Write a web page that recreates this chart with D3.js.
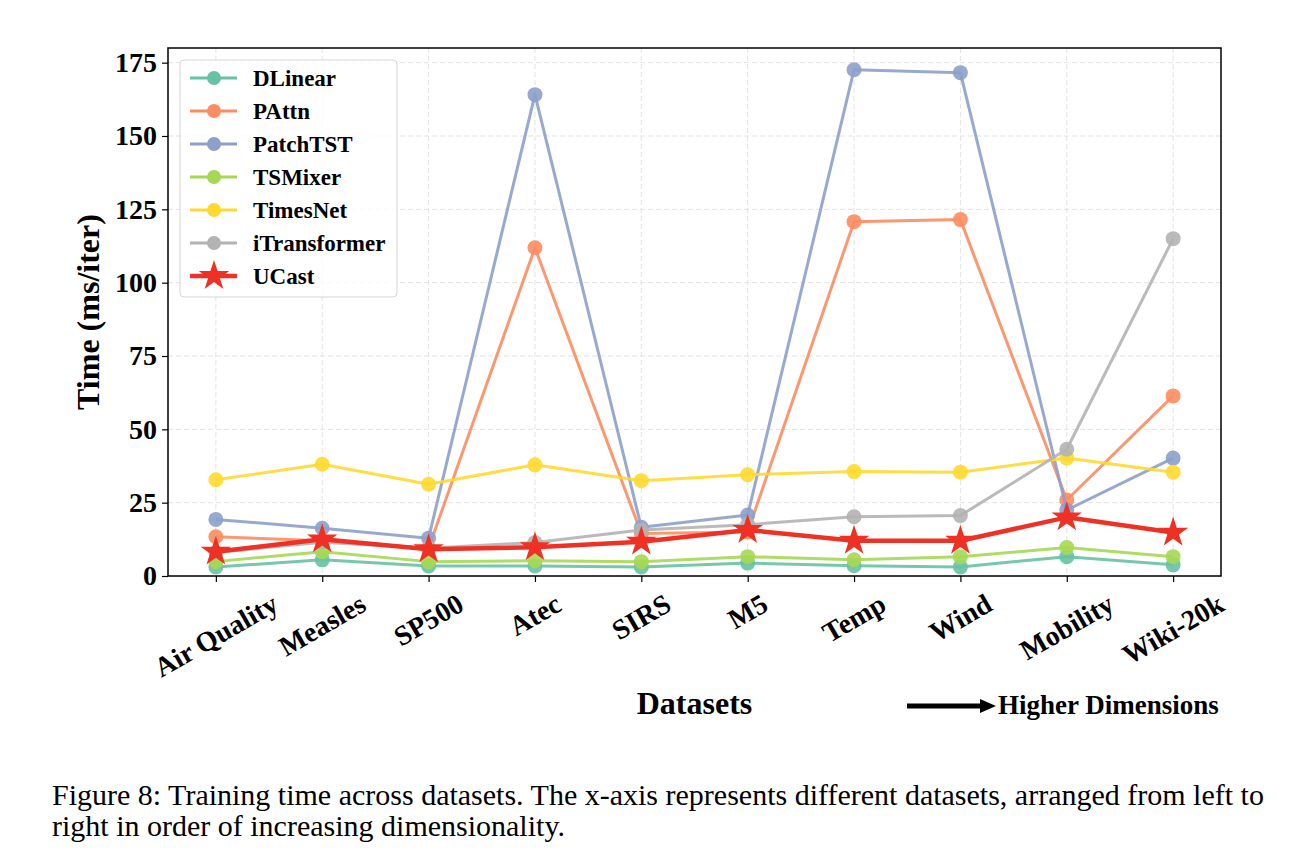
<!DOCTYPE html>
<html>
<head>
<meta charset="utf-8">
<script src="https://cdn.jsdelivr.net/npm/d3@7"></script>
<style>
  body { margin: 0; background: #fff; }
  svg { display: block; }
</style>
</head>
<body>
<svg id="chart" width="1308" height="855"></svg>
<script>
const datasets = ["Air Quality", "Measles", "SP500", "Atec", "SIRS", "M5", "Temp", "Wind", "Mobility", "Wiki-20k"];

const dlinear      = [3.1, 5.5, 3.4, 3.4, 3.1, 4.4, 3.5, 3.1, 6.6, 3.8];
const pattn        = [13.4, 12.0, 9.5, 111.9, 14.5, 15.0, 120.8, 121.5, 25.9, 61.4];
const patchtst     = [19.3, 16.3, 12.9, 164.1, 16.6, 20.8, 172.6, 171.6, 22.5, 40.2];
const tsmixer      = [4.9, 8.3, 4.9, 5.2, 4.9, 6.6, 5.5, 6.6, 9.7, 6.6];
const timesnet     = [32.8, 38.1, 31.3, 37.9, 32.5, 34.5, 35.6, 35.4, 40.2, 35.4];
const itransformer = [8.0, 11.5, 9.5, 11.4, 15.7, 17.5, 20.2, 20.6, 43.2, 115.0];
const ucast        = [8.3, 12.5, 9.1, 9.8, 11.7, 15.7, 12.0, 12.0, 20.0, 14.8];

const yTicks = [0, 25, 50, 75, 100, 125, 150, 175];

const series = [
  { name: "DLinear", values: dlinear, color: "#66c2a5" },
  { name: "PAttn", values: pattn, color: "#fc8d62" },
  { name: "PatchTST", values: patchtst, color: "#8da0cb" },
  { name: "TSMixer", values: tsmixer, color: "#a6d854" },
  { name: "TimesNet", values: timesnet, color: "#ffd92f" },
  { name: "iTransformer", values: itransformer, color: "#b3b3b3" },
  { name: "UCast", values: ucast, color: "#ee3124", star: true }
];

const svg = d3.select("#chart");
const plotLeft = 168, plotRight = 1221, plotTop = 48, plotBottom = 576;
const font = "'Liberation Serif', 'Times New Roman', serif";

const x = d3.scalePoint().domain(datasets).range([plotLeft, plotRight]).padding(0.45);
const y = d3.scaleLinear().domain([0, 180]).range([plotBottom, plotTop]);

// grille pointillée
const grid = svg.append("g").attr("stroke", "#e3e3e3").attr("stroke-width", 1).attr("stroke-dasharray", "5,3");
yTicks.forEach(t => grid.append("line").attr("x1", plotLeft).attr("x2", plotRight).attr("y1", y(t)).attr("y2", y(t)));
datasets.forEach(d => grid.append("line").attr("x1", x(d)).attr("x2", x(d)).attr("y1", plotTop).attr("y2", plotBottom));

function starPath(r) {
  const inner = r * 0.382;
  let pts = [];
  for (let i = 0; i < 10; i++) {
    const rr = i % 2 === 0 ? r : inner;
    const a = -Math.PI / 2 + i * Math.PI / 5;
    pts.push([rr * Math.cos(a), rr * Math.sin(a)]);
  }
  return "M" + pts.map(p => p.join(",")).join("L") + "Z";
}

const line = d3.line().x((d, i) => x(datasets[i])).y(d => y(d));

// courbes
series.forEach(s => {
  const g = svg.append("g");
  g.append("path")
    .attr("d", line(s.values))
    .attr("fill", "none")
    .attr("stroke", s.color)
    .attr("stroke-width", s.star ? 4.5 : 3)
    .attr("stroke-opacity", s.star ? 1 : 0.9)
    .attr("stroke-linejoin", "round");
  if (s.star) {
    g.selectAll("path.m").data(s.values).join("path")
      .attr("class", "m")
      .attr("d", starPath(16))
      .attr("transform", (d, i) => `translate(${x(datasets[i])},${y(d)})`)
      .attr("fill", s.color);
  } else {
    g.selectAll("circle").data(s.values).join("circle")
      .attr("cx", (d, i) => x(datasets[i]))
      .attr("cy", d => y(d))
      .attr("r", 7.5)
      .attr("fill", s.color)
      .attr("fill-opacity", 0.9);
  }
});

// cadre
svg.append("rect")
  .attr("x", plotLeft).attr("y", plotTop)
  .attr("width", plotRight - plotLeft).attr("height", plotBottom - plotTop)
  .attr("fill", "none").attr("stroke", "#000").attr("stroke-width", 1.5);

// axe Y
const yAxis = svg.append("g").attr("transform", `translate(${plotLeft},0)`)
  .call(d3.axisLeft(y).tickValues(yTicks).tickSize(6).tickPadding(5));
yAxis.select(".domain").remove();
yAxis.selectAll("line").attr("stroke", "#000").attr("stroke-width", 1.2);
yAxis.selectAll("text").attr("font-family", font).attr("font-weight", "bold").attr("font-size", 28).attr("fill", "#000");

// axe X
const xAxis = svg.append("g").attr("transform", `translate(0,${plotBottom})`)
  .call(d3.axisBottom(x).tickSize(6).tickFormat(""));
xAxis.select(".domain").remove();
xAxis.selectAll("line").attr("stroke", "#000").attr("stroke-width", 1.2);

const fontSize = 28;
datasets.forEach(d => {
  const t = svg.append("text")
    .attr("font-family", font).attr("font-weight", "bold").attr("font-size", fontSize)
    .attr("text-anchor", "middle").attr("dominant-baseline", "central")
    .text(d);
  const w = t.node().getComputedTextLength();
  const h = w * Math.sin(Math.PI / 6) + fontSize * 0.85 * Math.cos(Math.PI / 6);
  t.attr("transform", `translate(${x(d)},${plotBottom + 15 + h / 2}) rotate(-30)`);
});

// titres
svg.append("text")
  .attr("transform", `translate(88,${(plotTop + plotBottom) / 2}) rotate(-90)`)
  .attr("text-anchor", "middle").attr("dominant-baseline", "central")
  .attr("font-family", font).attr("font-weight", "bold").attr("font-size", 32)
  .text("Time (ms/iter)");

svg.append("text")
  .attr("x", (plotLeft + plotRight) / 2).attr("y", 714)
  .attr("text-anchor", "middle")
  .attr("font-family", font).attr("font-weight", "bold").attr("font-size", 32)
  .text("Datasets");

// flèche "Higher Dimensions"
svg.append("line").attr("x1", 907).attr("x2", 982).attr("y1", 706).attr("y2", 706)
  .attr("stroke", "#000").attr("stroke-width", 5);
svg.append("path").attr("d", "M980,699 L996,706 L980,713 Z").attr("fill", "#000");
svg.append("text")
  .attr("x", 998).attr("y", 714)
  .attr("font-family", font).attr("font-weight", "bold").attr("font-size", 27)
  .text("Higher Dimensions");

// légende
const lg = svg.append("g").attr("transform", "translate(180,60)");
lg.append("rect").attr("width", 217).attr("height", 237).attr("rx", 4)
  .attr("fill", "#fff").attr("fill-opacity", 0.8).attr("stroke", "#d5d5d5");
series.forEach((s, i) => {
  const yy = 18 + i * 33;
  lg.append("line").attr("x1", 10).attr("x2", 57).attr("y1", yy).attr("y2", yy)
    .attr("stroke", s.color).attr("stroke-width", s.star ? 4.5 : 3);
  if (s.star) {
    lg.append("path").attr("d", starPath(16)).attr("transform", `translate(34,${yy})`).attr("fill", s.color);
  } else {
    lg.append("circle").attr("cx", 34).attr("cy", yy).attr("r", 7).attr("fill", s.color);
  }
  lg.append("text").attr("x", 73).attr("y", yy).attr("dominant-baseline", "central")
    .attr("font-family", font).attr("font-weight", "bold").attr("font-size", 23)
    .text(s.name);
});

// légende de figure
const cap = svg.append("g").attr("font-family", font).attr("font-size", 30).attr("fill", "#000");
cap.append("text").attr("x", 52).attr("y", 805)
  .text("Figure 8: Training time across datasets. The x-axis represents different datasets, arranged from left to");
cap.append("text").attr("x", 52).attr("y", 836)
  .text("right in order of increasing dimensionality.");
</script>
</body>
</html>
